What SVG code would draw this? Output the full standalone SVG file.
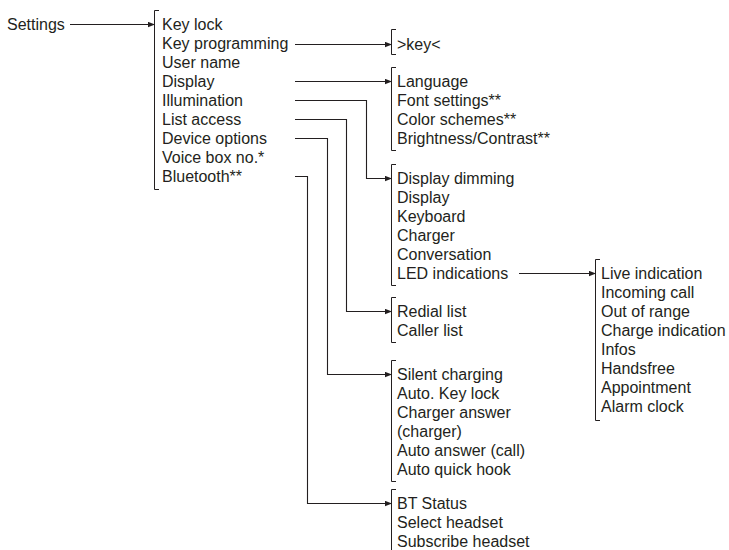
<svg xmlns="http://www.w3.org/2000/svg" width="729" height="550" viewBox="0 0 729 550">
<style>
text{font-family:"Liberation Sans",Arial,sans-serif;font-size:16px;fill:#231f20}
.br{fill:none;stroke:#231f20;stroke-width:1}
.c{fill:none;stroke:#231f20;stroke-width:1.1}
</style>
<defs>
<marker id="ah" viewBox="0 0 7 6" refX="7" refY="3" markerWidth="7" markerHeight="6" markerUnits="userSpaceOnUse" orient="auto">
<path d="M0,0.3 L7,3 L0,5.7 Z" fill="#231f20"/>
</marker>
</defs>
<rect width="729" height="550" fill="#ffffff"/>
<g id="settings"><text x="7" y="30">Settings</text></g>
<g id="main-menu">
<path class="br" d="M159,10.5 H154.5 V189.5 H159"/>
<text x="162" y="30">Key lock</text>
<text x="162" y="49">Key programming</text>
<text x="162" y="68">User name</text>
<text x="162" y="87">Display</text>
<text x="162" y="106">Illumination</text>
<text x="162" y="125">List access</text>
<text x="162" y="144">Device options</text>
<text x="162" y="163">Voice box no.*</text>
<text x="162" y="182">Bluetooth**</text>
</g>
<g id="key-menu">
<path class="br" d="M396,29.5 H391.5 V54.5 H396"/>
<text x="397" y="50">&gt;key&lt;</text>
</g>
<g id="display-menu">
<path class="br" d="M396,67.5 H391.5 V150.5 H396"/>
<text x="397" y="87">Language</text>
<text x="397" y="106">Font settings**</text>
<text x="397" y="125">Color schemes**</text>
<text x="397" y="144">Brightness/Contrast**</text>
</g>
<g id="illumination-menu">
<path class="br" d="M396,164.5 H391.5 V285.5 H396"/>
<text x="397" y="184">Display dimming</text>
<text x="397" y="203">Display</text>
<text x="397" y="222">Keyboard</text>
<text x="397" y="241">Charger</text>
<text x="397" y="260">Conversation</text>
<text x="397" y="279">LED indications</text>
</g>
<g id="list-menu">
<path class="br" d="M396,297.5 H391.5 V342.5 H396"/>
<text x="397" y="317">Redial list</text>
<text x="397" y="336">Caller list</text>
</g>
<g id="device-menu">
<path class="br" d="M396,360.5 H391.5 V481.5 H396"/>
<text x="397" y="380">Silent charging</text>
<text x="397" y="399">Auto. Key lock</text>
<text x="397" y="418">Charger answer</text>
<text x="397" y="437">(charger)</text>
<text x="397" y="456">Auto answer (call)</text>
<text x="397" y="475">Auto quick hook</text>
</g>
<g id="bluetooth-menu">
<path class="br" d="M396,489.5 H391.5 V552"/>
<text x="397" y="509">BT Status</text>
<text x="397" y="528">Select headset</text>
<text x="397" y="547">Subscribe headset</text>
</g>
<g id="led-menu">
<path class="br" d="M600,259.5 H595.5 V420.5 H600"/>
<text x="601" y="279">Live indication</text>
<text x="601" y="298">Incoming call</text>
<text x="601" y="317">Out of range</text>
<text x="601" y="336">Charge indication</text>
<text x="601" y="355">Infos</text>
<text x="601" y="374">Handsfree</text>
<text x="601" y="393">Appointment</text>
<text x="601" y="412">Alarm clock</text>
</g>
<g id="connectors">
<path class="c" d="M70,24.5 H155" marker-end="url(#ah)"/>
<path class="c" d="M295,44.5 H392" marker-end="url(#ah)"/>
<path class="c" d="M295,81.5 H392" marker-end="url(#ah)"/>
<path class="c" d="M295,100.5 H366.5 V178.5 H392" marker-end="url(#ah)"/>
<path class="c" d="M295,119.5 H346.5 V311.5 H392" marker-end="url(#ah)"/>
<path class="c" d="M295,138.5 H327.5 V374.5 H392" marker-end="url(#ah)"/>
<path class="c" d="M295,176.5 H307.5 V503.5 H392" marker-end="url(#ah)"/>
<path class="c" d="M519,273.5 H596" marker-end="url(#ah)"/>
</g>
</svg>
